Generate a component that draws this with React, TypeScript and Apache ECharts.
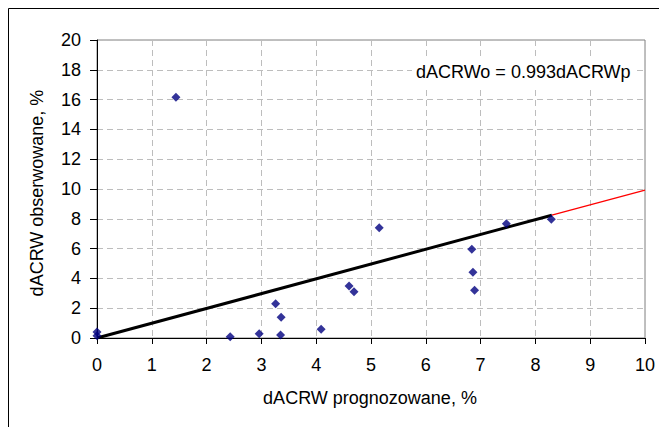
import React, { useEffect, useRef } from "react";
import * as echarts from "echarts";

const xPredicted = [0, 0, 1.44, 2.43, 2.96, 3.26, 3.36, 3.35, 4.09, 4.6, 4.69, 5.15, 6.84, 6.86, 6.89, 7.47, 8.29];
const yObserved = [0.4, 0.15, 16.15, 0.08, 0.28, 2.3, 1.39, 0.2, 0.58, 3.49, 3.1, 7.4, 5.95, 4.42, 3.2, 7.67, 7.97];
const trendX = [0, 8.3];
const trendY = [0, 8.24];
const extX = [8.3, 10];
const extY = [8.24, 9.93];
const xTicks = { min: 0, max: 10, interval: 1 };
const yTicks = { min: 0, max: 20, interval: 2 };
const equationText = "dACRWo = 0.993dACRWp";
const xTitle = "dACRW prognozowane, %";
const yTitle = "dACRW obserwowane, %";

const FONT = "'Liberation Sans', Arial, sans-serif";
const FS = 18;

export default function App() {
  const ref = useRef<HTMLDivElement>(null);
  useEffect(() => {
    document.body.style.margin = "0";
    if (!ref.current) return;
    const chart = echarts.init(ref.current, null, { renderer: "svg" });
    const pts = xPredicted.map((x, i) => [x, yObserved[i]]);
    const gridLine = { show: true, lineStyle: { color: "#bdbdbd", type: [6, 4] as any, width: 1 } };
    chart.setOption({
      animation: false,
      backgroundColor: "#ffffff",
      grid: {
        left: 97,
        right: 14,
        top: 40,
        bottom: 89,
        show: true,
        borderColor: "#808080",
        borderWidth: 1,
        backgroundColor: "transparent",
      },
      xAxis: {
        type: "value",
        min: xTicks.min,
        max: xTicks.max,
        interval: xTicks.interval,
        axisLine: { show: true, onZero: false, lineStyle: { color: "#000", width: 1 } },
        axisTick: { show: true, length: 6, lineStyle: { color: "#000" } },
        axisLabel: { color: "#000", fontSize: FS, fontFamily: FONT, margin: 18 },
        splitLine: gridLine,
      },
      yAxis: {
        type: "value",
        min: yTicks.min,
        max: yTicks.max,
        interval: yTicks.interval,
        axisLine: { show: true, onZero: false, lineStyle: { color: "#000", width: 1 } },
        axisTick: { show: true, length: 7, lineStyle: { color: "#000" } },
        axisLabel: { color: "#000", fontSize: FS, fontFamily: FONT, margin: 16 },
        splitLine: gridLine,
      },
      graphic: [
        {
          type: "rect",
          shape: { x: 8.5, y: 8.5, width: 700, height: 500 },
          style: { fill: "none", stroke: "#000", lineWidth: 1 },
          silent: true,
          z: 0,
        },
        {
          type: "text",
          x: 370,
          y: 398,
          style: {
            text: xTitle,
            fontSize: FS,
            fontFamily: FONT,
            fill: "#000",
            textAlign: "center",
            textVerticalAlign: "middle",
          },
        },
        {
          type: "text",
          x: 37,
          y: 193,
          rotation: Math.PI / 2,
          style: {
            text: yTitle,
            fontSize: FS,
            fontFamily: FONT,
            fill: "#000",
            textAlign: "center",
            textVerticalAlign: "middle",
          },
        },
        {
          type: "text",
          x: 412,
          y: 72,
          z: 10,
          style: {
            text: equationText,
            fontSize: FS,
            fontFamily: FONT,
            fill: "#000",
            textAlign: "left",
            textVerticalAlign: "middle",
            backgroundColor: "#fff",
            padding: [7, 4],
          },
        },
      ],
      series: [
        {
          type: "line",
          data: extX.map((x, i) => [x, extY[i]]),
          symbol: "none",
          lineStyle: { color: "#ff0000", width: 1.3 },
          z: 3,
        },
        {
          type: "line",
          data: trendX.map((x, i) => [x, trendY[i]]),
          symbol: "none",
          lineStyle: { color: "#000000", width: 3 },
          z: 4,
        },
        {
          type: "scatter",
          data: pts,
          symbol: "diamond",
          symbolSize: 9,
          itemStyle: { color: "#000080" },
          z: 5,
        },
      ],
    });
    return () => chart.dispose();
  }, []);
  return <div ref={ref} style={{ width: 659, height: 427 }} />;
}
